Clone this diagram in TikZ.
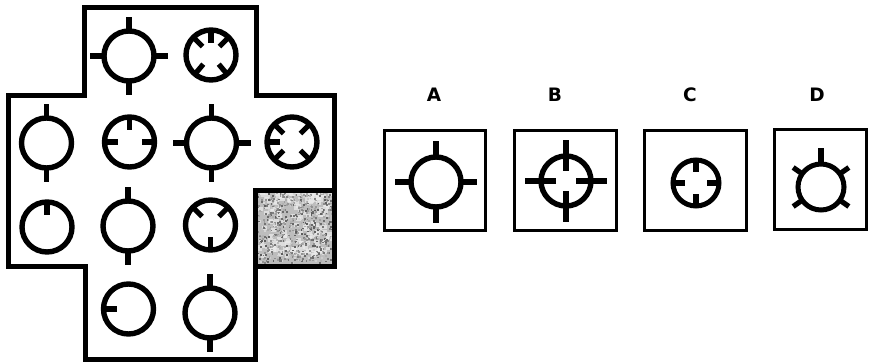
\documentclass[tikz,border=0pt]{standalone}
\usepackage{fontspec}
\setsansfont{DejaVu Sans}
\begin{document}
\begin{tikzpicture}[x=1pt,y=1pt,
  frame/.style={line width=5pt, line join=miter},
  optbox/.style={line width=3.2pt},
  ring/.style={circle, draw, line width=5.4pt, minimum size=50pt, inner sep=0pt, outer sep=0pt},
  ringsm/.style={ring, minimum size=46pt, line width=5pt},
  stub/.style={line width=5.2pt, line cap=butt},
  lab/.style={font=\sffamily\bfseries\fontsize{18.5}{18.5}\selectfont, inner sep=0pt}]
\useasboundingbox (0,0) rectangle (872,-363);
% outward stub: node, angle
\newcommand\stOut[3][25]{\draw[stub] (#2.center) ++(#3:#1) -- ++(#3:14);}
\newcommand\stIn[3][25]{\draw[stub] (#2.center) ++(#3:#1+1) -- ++(#3:-14);}
% cross outline
\draw[frame] (84,-8) -- (256,-8) -- (256,-95.5) -- (334,-95.5) -- (334,-266) -- (255,-266)
  -- (255,-359) -- (85,-359) -- (85,-266) -- (8,-266) -- (8,-95.5) -- (84,-95.5) -- cycle;
% grey square
\fill[black!26] (255,-190.5) rectangle (334,-266);
\pgfmathsetseed{17}
\foreach \i in {1,...,160}{
  \pgfmathsetmacro\xx{256+72*rnd}
  \pgfmathsetmacro\yy{-192-66*rnd}
  \fill[black!8, opacity=0.7] (\xx,\yy) rectangle ++(5,4);
}
\foreach \i in {1,...,700}{
  \pgfmathsetmacro\xx{257+74*rnd}
  \pgfmathsetmacro\yy{-193-71*rnd}
  \pgfmathsetmacro\gg{int(15+50*rnd)}
  \fill[black!\gg] (\xx,\yy) rectangle ++(1.8,1.8);
}
\draw[frame] (255,-190.5) rectangle (334,-266);
% row 1
\node[ring] (c11) at (129,-56) {};
\node[ring] (c12) at (211,-55) {};
% row 2
\node[ring] (c21) at (46.5,-143) {};
\node[ring] (c22) at (129.5,-142) {};
\node[ring] (c23) at (211.5,-143) {};
\node[ring] (c24) at (292,-142) {};
% row 3
\node[ring] (c31) at (47,-227) {};
\node[ring] (c32) at (128,-226) {};
\node[ring] (c33) at (210.5,-225) {};
% row 4
\node[ring] (c42) at (128.5,-309) {};
\node[ring] (c43) at (210,-313) {};
% stubs
\foreach \a in {0,90,180,270} {\stOut{c11}{\a}}
\foreach \a in {90,45,135,230,310} {\stIn{c12}{\a}}
\foreach \a in {90,270} {\stOut{c21}{\a}}
\foreach \a in {90,0,180} {\stIn{c22}{\a}}
\foreach \a in {0,90,180,270} {\stOut{c23}{\a}}
\foreach \a in {180,45,135,225,315} {\stIn{c24}{\a}}
\stIn{c31}{90}
\foreach \a in {90,270} {\stOut{c32}{\a}}
\foreach \a in {45,135,270} {\stIn{c33}{\a}}
\stIn{c42}{180}
\foreach \a in {90,270} {\stOut{c43}{\a}}
% option labels
\node[lab] (la) at (434,-95) {A};
\node[lab] (lb) at (555,-95) {B};
\node[lab] (lc) at (690,-95) {C};
\node[lab] (ld) at (817,-95) {D};
% option boxes
\draw[optbox] (384.5,-130.5) rectangle (485.5,-230.5);
\draw[optbox] (514.5,-130.5) rectangle (616.5,-230.5);
\draw[optbox] (644.5,-130.5) rectangle (746.5,-230.5);
\draw[optbox] (774.5,-129.5) rectangle (866.5,-229.5);
% option glyphs
\node[ring] (oa) at (436,-182) {};
\foreach \a in {0,90,180,270} {\draw[stub] (oa.center) ++(\a:24) -- ++(\a:17);}
\node[ring] (ob) at (566,-181) {};
\foreach \a in {0,90,180,270} {\draw[stub] (ob.center) ++(\a:10) -- ++(\a:31);}
\node[ringsm] (oc) at (696,-183) {};
\foreach \a in {0,90,180,270} {\draw[stub] (oc.center) ++(\a:24) -- ++(\a:-13);}
\node[ringsm] (od) at (821,-187) {};
\draw[stub] (od.center) ++(90:22) -- ++(90:17);
\foreach \a in {35,145,215,325} {\draw[stub] (od.center) ++(\a:22) -- ++(\a:12);}
\end{tikzpicture}
\end{document}
